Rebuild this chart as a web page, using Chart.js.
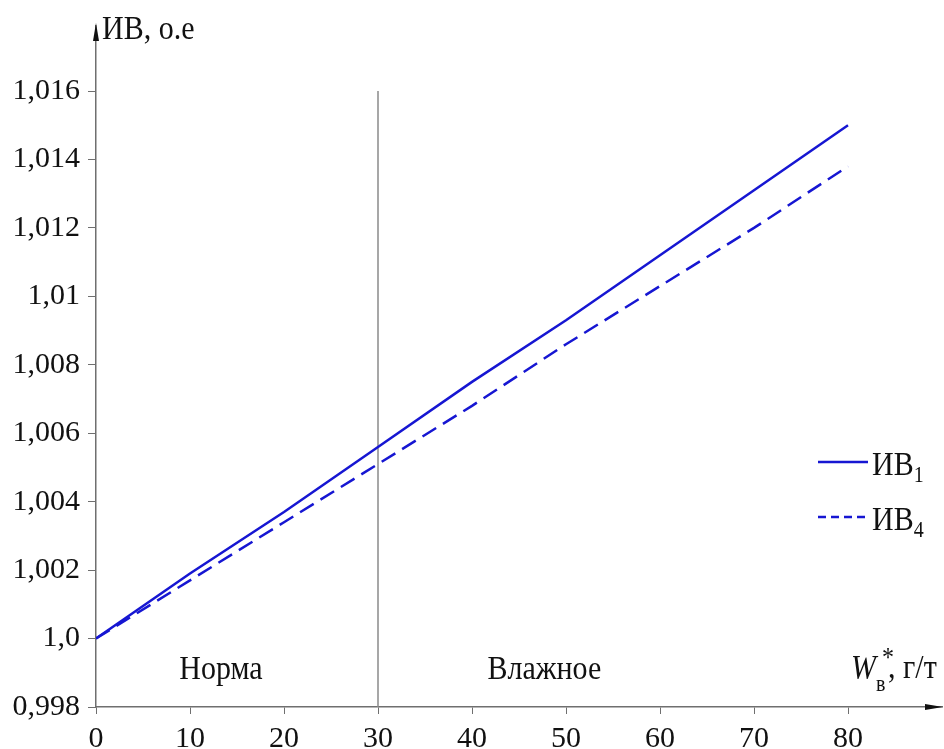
<!DOCTYPE html>
<html>
<head>
<meta charset="utf-8">
<script src="https://cdn.jsdelivr.net/npm/chart.js@4.4.1/dist/chart.umd.min.js"></script>
<style>
  html, body { margin: 0; padding: 0; background: #fff; }
  #wrap { width: 944px; height: 749px; }
</style>
</head>
<body>
<div id="wrap"><canvas id="chart" width="944" height="749"></canvas></div>
<script>
const xValues = [0, 10, 20, 30, 40, 50, 60, 70, 80];
const iv1 = [1.0, 1.0019, 1.0037, 1.0056, 1.0075, 1.0093, 1.0112, 1.0131, 1.0150];
const iv4 = [1.0, 1.0017, 1.0034, 1.0051, 1.0068, 1.0086, 1.0103, 1.0120, 1.0138];
const xTicks = [0, 10, 20, 30, 40, 50, 60, 70, 80];
const yTicks = [0.998, 1.0, 1.002, 1.004, 1.006, 1.008, 1.01, 1.012, 1.014, 1.016];
const borderX = [30, 30];
const borderY = [0.998, 1.016];

const FONT = '"Liberation Serif", "DejaVu Serif", serif';
const BLUE = '#1616d2';
const AXIS = '#6f6f6f';

function fmtY(v) {
  let s = v.toFixed(3).replace(/0+$/, '');
  if (s.endsWith('.')) s += '0';
  return s.replace('.', ',');
}

const toPoints = (xs, ys) => xs.map((x, i) => ({ x, y: ys[i] }));

// text in the original looks a bit stretched vertically
function tallText(ctx, text, x, y) {
  ctx.save();
  ctx.translate(x, y);
  ctx.scale(1, 1.15);
  ctx.fillText(text, 0, 0);
  ctx.restore();
}

const decor = {
  id: 'decor',
  afterDraw(chart) {
    const { ctx, chartArea, scales } = chart;
    const x0 = chartArea.left, yb = chartArea.bottom;
    ctx.save();
    // axis arrows
    ctx.fillStyle = '#111';
    ctx.beginPath();
    ctx.moveTo(x0, chartArea.top - 3);
    ctx.lineTo(x0 - 3, chartArea.top + 15);
    ctx.lineTo(x0 + 3, chartArea.top + 15);
    ctx.closePath();
    ctx.fill();
    ctx.beginPath();
    ctx.moveTo(chartArea.right + 1, yb);
    ctx.lineTo(chartArea.right - 17, yb - 3);
    ctx.lineTo(chartArea.right - 17, yb + 3);
    ctx.closePath();
    ctx.fill();

    ctx.fillStyle = '#111';
    ctx.textBaseline = 'alphabetic';
    ctx.textAlign = 'left';
    ctx.font = '30px ' + FONT;
    tallText(ctx, 'ИВ, о.е', x0 + 6, 39);

    // zone labels
    ctx.textAlign = 'center';
    tallText(ctx, 'Норма', scales.x.getPixelForValue(13.3), 679);
    tallText(ctx, 'Влажное', scales.x.getPixelForValue(47.7), 679);

    // x axis title
    ctx.textAlign = 'left';
    ctx.font = 'italic 30px ' + FONT;
    tallText(ctx, 'W', 851, 678);
    ctx.font = '20px ' + FONT;
    tallText(ctx, 'в', 876, 691);
    ctx.font = '24px ' + FONT;
    tallText(ctx, '*', 882, 666);
    ctx.font = '30px ' + FONT;
    tallText(ctx, ', г/т', 888, 678);

    // legend
    const items = chart.data.datasets.filter(d => d.legendSub);
    items.forEach((d, i) => {
      const y = 462 + i * 55;
      ctx.strokeStyle = d.borderColor;
      ctx.lineWidth = d.borderWidth;
      ctx.setLineDash(d.borderDash ? [8, 5] : []);
      ctx.beginPath();
      ctx.moveTo(818, y);
      ctx.lineTo(868, y);
      ctx.stroke();
      ctx.setLineDash([]);
      ctx.fillStyle = '#111';
      ctx.font = '30px ' + FONT;
      tallText(ctx, 'ИВ', 872, y + 13);
      const w = ctx.measureText('ИВ').width;
      ctx.font = '20px ' + FONT;
      tallText(ctx, d.legendSub, 872 + w, y + 20);
    });
    ctx.restore();
  }
};

new Chart(document.getElementById('chart'), {
  type: 'line',
  data: {
    datasets: [
      {
        label: 'ИВ1',
        legendSub: '1',
        data: toPoints(xValues, iv1),
        borderColor: BLUE,
        borderWidth: 2.5,
        pointRadius: 0,
        tension: 0
      },
      {
        label: 'ИВ4',
        legendSub: '4',
        data: toPoints(xValues, iv4),
        borderColor: BLUE,
        borderWidth: 2.5,
        borderDash: [16, 8],
        pointRadius: 0,
        tension: 0
      },
      {
        label: 'граница',
        data: toPoints(borderX, borderY),
        borderColor: '#8a8a8a',
        borderWidth: 1.5,
        pointRadius: 0
      }
    ]
  },
  options: {
    responsive: false,
    animation: false,
    layout: { padding: { top: 15, right: 2, left: 0, bottom: 0 } },
    plugins: { legend: { display: false }, tooltip: { enabled: false } },
    scales: {
      x: {
        type: 'linear',
        min: 0,
        max: 90,
        afterBuildTicks: (axis) => { axis.ticks = xTicks.map(v => ({ value: v })); },
        afterFit: (axis) => { axis.height = 42; },
        border: { color: AXIS, width: 1.5 },
        grid: { drawOnChartArea: false, tickLength: 7, color: AXIS },
        ticks: {
          color: '#111',
          padding: 7,
          maxRotation: 0,
          font: { family: FONT, size: 30 }
        }
      },
      y: {
        type: 'linear',
        min: 0.998,
        max: 1.0179,
        afterBuildTicks: (axis) => { axis.ticks = yTicks.map(v => ({ value: v })); },
        afterFit: (axis) => { axis.width = 96; },
        border: { color: AXIS, width: 1.5 },
        grid: { drawOnChartArea: false, tickLength: 8, color: AXIS },
        ticks: {
          color: '#111',
          padding: 8,
          font: { family: FONT, size: 30 },
          callback: (v) => fmtY(v)
        }
      }
    }
  },
  plugins: [decor]
});
</script>
</body>
</html>
